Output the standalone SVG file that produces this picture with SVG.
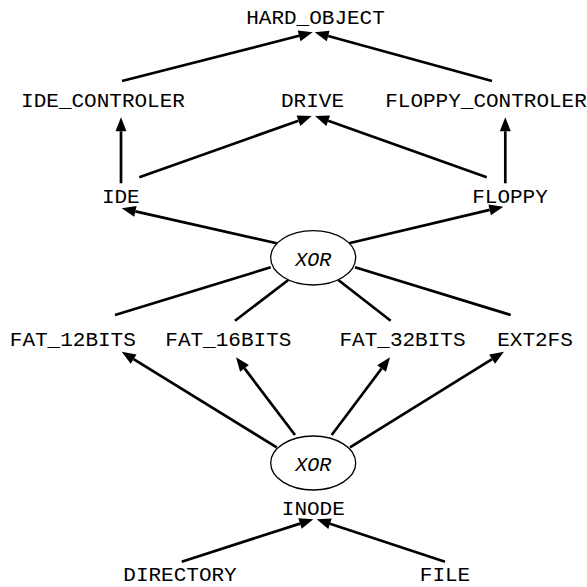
<svg xmlns="http://www.w3.org/2000/svg" width="587" height="587" viewBox="0 0 587 587">
<style>
  .lbl { font-family: "Liberation Mono", "Courier New", monospace; font-size: 21px; fill: #000; text-anchor: middle; }
  .op { font-family: "Liberation Mono", "Courier New", monospace; font-size: 20px; font-style: italic; fill: #000; text-anchor: middle; }
  .edge { stroke: #000; stroke-width: 2.7; fill: none; }
  .arr { marker-end: url(#ah); }
  .ell { fill: #fff; stroke: #000; stroke-width: 1.3; }
</style>
<defs>
  <marker id="ah" markerUnits="userSpaceOnUse" markerWidth="16" markerHeight="14" refX="0" refY="7" orient="auto" overflow="visible">
    <path d="M0,1.5 L14,7 L0,12.5 Z" fill="#000"/>
  </marker>
</defs>
<rect width="587" height="587" fill="#fff"/>
<g id="connectors">
  <line class="edge arr" x1="122" y1="81" x2="299.1" y2="35.8"/>
  <line class="edge arr" x1="492" y1="81" x2="328.2" y2="36.0"/>
  <line class="edge arr" x1="121" y1="183.3" x2="121" y2="131.3"/>
  <line class="edge arr" x1="505.3" y1="183.3" x2="505.3" y2="131.3"/>
  <line class="edge arr" x1="139.3" y1="177.3" x2="298.5" y2="120.7"/>
  <line class="edge arr" x1="486.7" y1="177.3" x2="328.2" y2="120.7"/>
  <line class="edge arr" x1="276.7" y1="243.3" x2="135.4" y2="211.4"/>
  <line class="edge arr" x1="349" y1="243.3" x2="489.7" y2="209.9"/>
  <line class="edge" x1="270.7" y1="267.3" x2="115" y2="315"/>
  <line class="edge" x1="288.3" y1="280" x2="235" y2="320.7"/>
  <line class="edge" x1="338.3" y1="280" x2="390.7" y2="320.7"/>
  <line class="edge" x1="355" y1="267.3" x2="510.7" y2="315"/>
  <line class="edge arr" x1="276.7" y1="447.3" x2="133.6" y2="359.1"/>
  <line class="edge arr" x1="295" y1="435" x2="244.5" y2="368.4"/>
  <line class="edge arr" x1="331.7" y1="435" x2="381.6" y2="368.5"/>
  <line class="edge arr" x1="350" y1="447.3" x2="492.1" y2="359.1"/>
  <line class="edge arr" x1="181.7" y1="561.7" x2="300.0" y2="523.6"/>
  <line class="edge arr" x1="445" y1="561.7" x2="330.0" y2="523.7"/>
</g>
<g id="HARD_OBJECT"><text class="lbl" x="315.5" y="24.4">HARD_OBJECT</text></g>
<g id="IDE_CONTROLER"><text class="lbl" x="103" y="106.5">IDE_CONTROLER</text></g>
<g id="DRIVE"><text class="lbl" x="312.5" y="106.5">DRIVE</text></g>
<g id="FLOPPY_CONTROLER"><text class="lbl" x="486" y="106.5">FLOPPY_CONTROLER</text></g>
<g id="IDE"><text class="lbl" x="120.8" y="202.5">IDE</text></g>
<g id="FLOPPY"><text class="lbl" x="510" y="202.5">FLOPPY</text></g>
<g id="XOR1"><ellipse class="ell" cx="313.2" cy="257.8" rx="42.5" ry="27.2"/><text class="op" x="313.2" y="266">XOR</text></g>
<g id="FAT_12BITS"><text class="lbl" x="72.8" y="345.6">FAT_12BITS</text></g>
<g id="FAT_16BITS"><text class="lbl" x="228.3" y="345.6">FAT_16BITS</text></g>
<g id="FAT_32BITS"><text class="lbl" x="402.5" y="345.6">FAT_32BITS</text></g>
<g id="EXT2FS"><text class="lbl" x="535" y="345.6">EXT2FS</text></g>
<g id="XOR2"><ellipse class="ell" cx="313.2" cy="463" rx="42.5" ry="27"/><text class="op" x="313.2" y="470.5">XOR</text></g>
<g id="INODE"><text class="lbl" x="313.3" y="514.5">INODE</text></g>
<g id="DIRECTORY"><text class="lbl" x="180" y="580.5">DIRECTORY</text></g>
<g id="FILE"><text class="lbl" x="445" y="580.5">FILE</text></g>
</svg>
